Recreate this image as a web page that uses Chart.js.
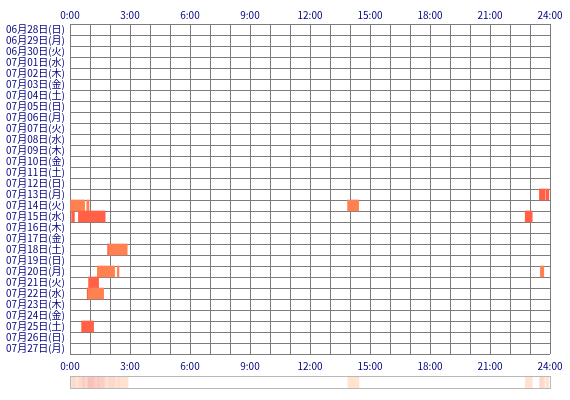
<!DOCTYPE html>
<html lang="ja">

<head>
    <meta charset="UTF-8">
    <title>睡眠記録</title>
    <script src="https://cdn.jsdelivr.net/npm/chart.js"></script>
    <style>
        body { margin: 0; background: #fff; }
        #wrap { position: relative; width: 570px; height: 400px; }
        #chartSono { position: absolute; left: 0; top: 0; }
        #faixa { position: absolute; left: 70px; top: 376px; width: 479px; height: 11px; border: 1px solid #b8b8b8; background: #fff; }
        #chartFaixa { display: block; }
    </style>
</head>

<body>
    <div id="wrap">
        <canvas id="chartSono" width="570" height="372"></canvas>
        <div id="faixa">
            <canvas id="chartFaixa" width="479" height="11"></canvas>
        </div>
    </div>
</body>

</html>
<script>
    // dias (eixo y)
    const dias = [
        '06月28日(日)', '06月29日(月)', '06月30日(火)', '07月01日(水)', '07月02日(木)',
        '07月03日(金)', '07月04日(土)', '07月05日(日)', '07月06日(月)', '07月07日(火)',
        '07月08日(水)', '07月09日(木)', '07月10日(金)', '07月11日(土)', '07月12日(日)',
        '07月13日(月)', '07月14日(火)', '07月15日(水)', '07月16日(木)', '07月17日(金)',
        '07月18日(土)', '07月19日(日)', '07月20日(月)', '07月21日(火)', '07月22日(水)',
        '07月23日(木)', '07月24日(金)', '07月25日(土)', '07月26日(日)', '07月27日(月)'];

    // rótulos das horas (a cada 3h)
    const horas = ['0:00', '3:00', '6:00', '9:00', '12:00', '15:00', '18:00', '21:00', '24:00'];

    // blocos de sono: dia, início e fim (em horas), tipo (0 = claro, 1 = escuro)
    const sonoDia = [
        '07月13日(月)', '07月13日(月)',
        '07月14日(火)', '07月14日(火)', '07月14日(火)',
        '07月15日(水)', '07月15日(水)', '07月15日(水)',
        '07月18日(土)', '07月18日(土)',
        '07月20日(月)', '07月20日(月)', '07月20日(月)',
        '07月21日(火)',
        '07月22日(水)', '07月22日(水)',
        '07月25日(土)'];
    const sonoInicio = [23.47, 23.81, 0.00, 0.84, 13.88, 0.08, 0.42, 22.76, 1.88, 1.95, 1.37, 2.37, 23.52, 0.93, 0.86, 0.92, 0.58];
    const sonoFim = [23.76, 23.94, 0.73, 0.95, 14.43, 0.22, 1.76, 23.11, 1.95, 2.86, 2.23, 2.45, 23.69, 1.43, 0.92, 1.68, 1.18];
    const sonoTipo = [1, 1, 0, 0, 0, 1, 1, 1, 1, 0, 0, 0, 0, 1, 1, 0, 1];

    const cores = ['#ff8050', '#ff6046'];
    const coresFaixa = ['#ffffff', '#ffe2d0', '#fdd8cc', '#fbcdc4', '#f9c3bb', '#f7b9b2'];

    const fonte = { size: 10, family: '"Noto Sans CJK JP", sans-serif' };
    const azul = '#000080';

    var pontos = sonoDia.map((d, i) => ({ y: d, x: [sonoInicio[i], sonoFim[i]] }));
    var corPontos = sonoTipo.map(t => cores[t]);

    function rotuloHora(v) {
        return v % 3 === 0 ? horas[v / 3] : '';
    }

    const chartSono = new Chart(document.getElementById('chartSono'), {
        type: 'bar',
        data: {
            labels: dias,
            datasets: [{
                data: pontos,
                backgroundColor: corPontos,
                borderWidth: 0,
                barPercentage: 1,
                categoryPercentage: 1
            }]
        },
        options: {
            indexAxis: 'y',
            responsive: false,
            animation: false,
            layout: { padding: { right: 20, left: 0, top: 0, bottom: 0 } },
            plugins: { legend: { display: false }, tooltip: { enabled: false } },
            scales: {
                x: {
                    type: 'linear',
                    position: 'bottom',
                    min: 0,
                    max: 24,
                    afterFit: s => { s.height = 18; },
                    grid: { color: '#7c7c7c', drawTicks: false },
                    border: { display: false },
                    ticks: {
                        stepSize: 1,
                        autoSkip: false,
                        maxRotation: 0,
                        padding: 6,
                        font: fonte,
                        color: azul,
                        callback: rotuloHora
                    }
                },
                xTop: {
                    type: 'linear',
                    position: 'top',
                    min: 0,
                    max: 24,
                    afterFit: s => { s.height = 24; },
                    grid: { display: false, drawTicks: false },
                    border: { display: false },
                    ticks: {
                        stepSize: 1,
                        autoSkip: false,
                        maxRotation: 0,
                        padding: 3,
                        font: fonte,
                        color: azul,
                        callback: rotuloHora
                    }
                },
                y: {
                    type: 'category',
                    afterFit: s => { s.width = 70; },
                    grid: { color: '#7c7c7c', offset: true, drawTicks: false },
                    border: { display: true, color: '#7c7c7c' },
                    ticks: {
                        autoSkip: false,
                        padding: 5,
                        font: fonte,
                        color: azul
                    }
                }
            }
        }
    });

    // faixa de resumo: quantos dias dormindo em cada trecho do dia
    var limites = [...new Set(sonoInicio.concat(sonoFim))].sort((a, b) => a - b);
    var faixa = [];
    var corFaixa = [];
    for (var i = 0; i < limites.length - 1; i++) {
        var meio = (limites[i] + limites[i + 1]) / 2;
        var n = 0;
        for (var j = 0; j < sonoInicio.length; j++) {
            if (sonoInicio[j] < meio && sonoFim[j] > meio) n++;
        }
        if (n > 0) {
            faixa.push({ y: 'todos', x: [limites[i], limites[i + 1]] });
            corFaixa.push(coresFaixa[Math.min(n, coresFaixa.length - 1)]);
        }
    }

    const chartFaixa = new Chart(document.getElementById('chartFaixa'), {
        type: 'bar',
        data: {
            labels: ['todos'],
            datasets: [{
                data: faixa,
                backgroundColor: corFaixa,
                borderWidth: 0,
                barPercentage: 1,
                categoryPercentage: 1
            }]
        },
        options: {
            indexAxis: 'y',
            responsive: false,
            animation: false,
            layout: { padding: 0 },
            plugins: { legend: { display: false }, tooltip: { enabled: false } },
            scales: {
                x: { type: 'linear', min: 0, max: 24, display: false },
                y: { display: false }
            }
        }
    });
</script>
